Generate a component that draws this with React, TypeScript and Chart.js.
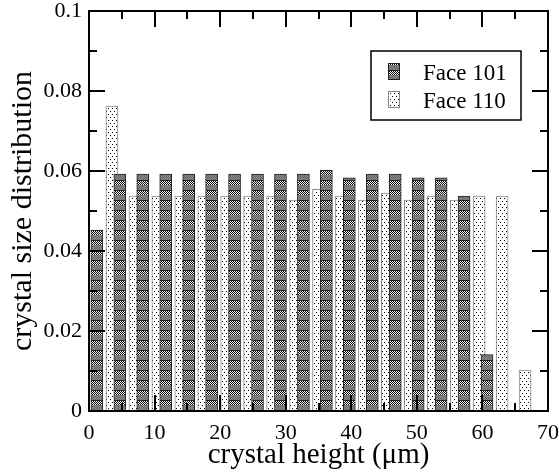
import React, { useEffect, useRef } from 'react';
import { Chart, registerables } from 'chart.js';

Chart.register(...registerables);

// Face 101 bars (x centre in µm, distribution value)
const face101X = [1.2, 4.7, 8.2, 11.7, 15.2, 18.7, 22.2, 25.7, 29.2, 32.7, 36.2, 39.7, 43.2, 46.7, 50.2, 53.7, 57.2, 60.7];
const face101Y = [0.0452, 0.0592, 0.0592, 0.0592, 0.0592, 0.0592, 0.0592, 0.0592, 0.0592, 0.0592, 0.0602, 0.0583, 0.0592, 0.0592, 0.0583, 0.0583, 0.0537, 0.0141];

// Face 110 bars
const face110X = [3.5, 7, 10.5, 14, 17.5, 21, 24.5, 28, 31.5, 35, 38.5, 42, 45.5, 49, 52.5, 56, 59.5, 63, 66.5];
const face110Y = [0.0762, 0.0537, 0.0537, 0.0537, 0.0537, 0.0537, 0.0537, 0.0537, 0.0527, 0.0554, 0.0537, 0.0527, 0.0545, 0.0527, 0.0537, 0.0527, 0.0537, 0.0537, 0.0102];

const seriesLabels = ['Face 101', 'Face 110'];
const xTickValues = [0, 10, 20, 30, 40, 50, 60, 70];
const yTickValues = [0, 0.02, 0.04, 0.06, 0.08, 0.1];
const xTitle = 'crystal height (\u03bcm)';
const yTitle = 'crystal size distribution';

const SERIF = "'Liberation Serif', 'Times New Roman', serif";

function makeDarkPattern(): CanvasPattern | string {
  const c = document.createElement('canvas');
  c.width = 12;
  c.height = 10;
  const g = c.getContext('2d');
  if (!g) return '#808080';
  g.fillStyle = '#888888';
  g.fillRect(0, 0, 12, 10);
  for (let y = 1; y < 5; y++) {
    for (let x = 0; x < 12; x++) {
      g.fillStyle = (x + y) % 2 === 0 ? '#000000' : '#ffffff';
      g.fillRect(x, y, 1, 1);
    }
  }
  for (let y = 5; y < 10; y++) {
    for (let x = 0; x < 12; x++) {
      if ((x + y) % 2 === 0) {
        g.fillStyle = '#6a6a6a';
        g.fillRect(x, y, 1, 1);
      }
    }
  }
  g.fillStyle = '#222222';
  g.fillRect(0, 0, 12, 1);
  return g.createPattern(c, 'repeat') || '#808080';
}

function makeLightPattern(): CanvasPattern | string {
  const c = document.createElement('canvas');
  c.width = 4;
  c.height = 6;
  const g = c.getContext('2d');
  if (!g) return '#eeeeee';
  g.fillStyle = '#ffffff';
  g.fillRect(0, 0, 4, 6);
  g.fillStyle = '#000000';
  g.fillRect(0, 0, 1, 1);
  g.fillRect(2, 3, 1, 1);
  return g.createPattern(c, 'repeat') || '#eeeeee';
}

const framePlugin = {
  id: 'frameTicks',
  afterDraw(chart: any) {
    const { ctx, chartArea } = chart;
    const xs = chart.scales.x;
    const ys = chart.scales.y;
    const { left, right, top, bottom } = chartArea;
    ctx.save();
    ctx.strokeStyle = '#000';
    ctx.lineWidth = 2;
    ctx.lineCap = 'butt';
    const major = 16;
    const minor = 8;
    ctx.beginPath();
    const xMinor: number[] = [];
    for (let i = 0; i < xTickValues.length - 1; i++) xMinor.push((xTickValues[i] + xTickValues[i + 1]) / 2);
    const yMinor: number[] = [];
    for (let i = 0; i < yTickValues.length - 1; i++) yMinor.push((yTickValues[i] + yTickValues[i + 1]) / 2);
    const xt = (v: number, len: number) => {
      const px = Math.round(xs.getPixelForValue(v));
      ctx.moveTo(px, bottom);
      ctx.lineTo(px, bottom - len);
      ctx.moveTo(px, top);
      ctx.lineTo(px, top + len);
    };
    const yt = (v: number, len: number) => {
      const py = Math.round(ys.getPixelForValue(v));
      ctx.moveTo(left, py);
      ctx.lineTo(left + len, py);
      ctx.moveTo(right, py);
      ctx.lineTo(right - len, py);
    };
    xTickValues.forEach((v) => xt(v, major));
    xMinor.forEach((v) => xt(v, minor));
    yTickValues.forEach((v) => yt(v, major));
    yMinor.forEach((v) => yt(v, minor));
    ctx.stroke();
    ctx.strokeRect(left, top, right - left, bottom - top);
    ctx.restore();
  },
};

const legendPlugin = {
  id: 'boxLegend',
  afterDraw(chart: any) {
    const { ctx } = chart;
    ctx.save();
    const bx = 371;
    const by = 51;
    const bw = 150;
    const bh = 69;
    ctx.fillStyle = '#fff';
    ctx.fillRect(bx, by, bw, bh);
    ctx.strokeStyle = '#000';
    ctx.lineWidth = 1.5;
    ctx.strokeRect(bx, by, bw, bh);
    ctx.font = `23px ${SERIF}`;
    ctx.textBaseline = 'alphabetic';
    ctx.textAlign = 'left';
    chart.data.datasets.forEach((ds: any, i: number) => {
      const sy = by + 12 + i * 28;
      ctx.fillStyle = ds.backgroundColor;
      ctx.fillRect(bx + 17, sy, 12, 17);
      ctx.strokeStyle = ds.borderColor;
      ctx.lineWidth = 1;
      ctx.strokeRect(bx + 17.5, sy + 0.5, 11, 16);
      ctx.fillStyle = '#000';
      ctx.fillText(ds.label, bx + 52, sy + 17);
    });
    ctx.restore();
  },
};

const fmt = (v: any) => String(+Number(v).toFixed(4));

export default function App() {
  const ref = useRef<HTMLCanvasElement>(null);
  useEffect(() => {
    const canvas = ref.current;
    if (!canvas) return;
    const darkPat = makeDarkPattern();
    const lightPat = makeLightPattern();
    const chart = new Chart(canvas, {
      type: 'bar',
      data: {
        datasets: [
          {
            label: seriesLabels[0],
            data: face101X.map((x, i) => ({ x, y: face101Y[i] })),
            backgroundColor: darkPat as any,
            borderColor: '#222222',
            borderWidth: 1,
          },
          {
            label: seriesLabels[1],
            data: face110X.map((x, i) => ({ x, y: face110Y[i] })),
            backgroundColor: lightPat as any,
            borderColor: '#888888',
            borderWidth: 1,
          },
        ],
      },
      options: {
        animation: false,
        responsive: false,
        datasets: { bar: { grouped: false, barThickness: 12 } } as any,
        layout: { padding: { top: 11, right: 11, left: 0, bottom: 0 } },
        plugins: { legend: { display: false }, tooltip: { enabled: false } },
        scales: {
          x: {
            type: 'linear',
            min: 0,
            max: 70,
            offset: false,
            grid: { display: false, drawTicks: false },
            border: { display: false },
            afterBuildTicks: (s: any) => {
              s.ticks = xTickValues.map((v) => ({ value: v }));
            },
            ticks: { color: '#000', padding: 9, maxRotation: 0, autoSkip: false, font: { family: SERIF, size: 22 }, callback: fmt },
            title: { display: true, text: xTitle, color: '#000', font: { family: SERIF, size: 29 }, padding: { top: 0, bottom: 2 } },
            afterFit: (s: any) => {
              s.height = 64;
              s.paddingLeft = 0;
              s.paddingRight = 0;
            },
          },
          y: {
            type: 'linear',
            min: 0,
            max: 0.1,
            grid: { display: false, drawTicks: false },
            border: { display: false },
            afterBuildTicks: (s: any) => {
              s.ticks = yTickValues.map((v) => ({ value: v }));
            },
            ticks: { color: '#000', padding: 7, autoSkip: false, font: { family: SERIF, size: 22 }, callback: fmt },
            title: { display: true, text: yTitle, color: '#000', font: { family: SERIF, size: 30 }, padding: { top: 5, bottom: 0 } },
            afterFit: (s: any) => {
              s.width = 89;
              s.paddingTop = 0;
              s.paddingBottom = 0;
            },
          },
        },
      },
      plugins: [framePlugin, legendPlugin],
    });
    return () => chart.destroy();
  }, []);
  return (
    <div style={{ position: 'absolute', left: 0, top: 0, width: 559, height: 475, background: '#fff' }}>
      <canvas ref={ref} width={559} height={475} style={{ display: 'block', width: 559, height: 475 }} />
    </div>
  );
}
